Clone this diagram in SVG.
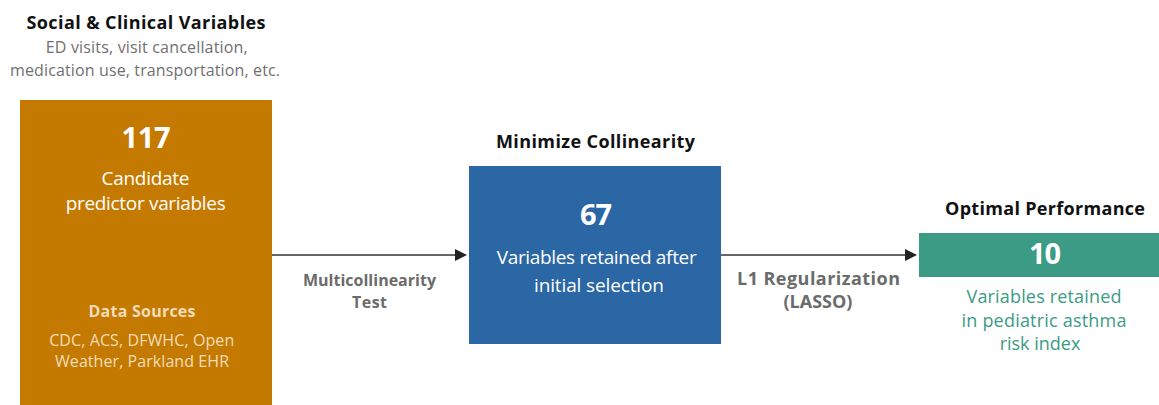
<svg xmlns="http://www.w3.org/2000/svg" width="1159" height="405" viewBox="0 0 1159 405">
<defs>
<style>
text{font-family:"Open Sans","Liberation Sans",sans-serif;text-anchor:middle}
.h{font-weight:bold;font-size:18px;fill:#111}
.sub{font-size:16px;fill:#707070}
.num{font-weight:bold;font-size:29px;fill:#fff}
.w{font-size:19px;fill:#fff}
.lbl{font-weight:bold;font-size:16px;fill:#6b6b6b}
.lbl2{font-weight:bold;font-size:18px;fill:#6b6b6b}
.src{font-size:16px;fill:#f3dcb8}
.srch{font-weight:bold;font-size:16px;fill:#f3dcb8}
.g{font-size:18px;fill:#3b9b85}
.edge{stroke:#333;stroke-width:1.5;fill:none}
.head{fill:#222}
</style>
</defs>
<rect width="1159" height="405" fill="#fff"/>
<g id="connectors">
<line class="edge" x1="272" y1="255" x2="456" y2="255"/>
<path class="head" d="M455,249L467,255L455,261z"/>
<line class="edge" x1="721" y1="255" x2="906" y2="255"/>
<path class="head" d="M905,249L917,255L905,261z"/>
<text class="lbl" x="369.5" y="285.5" textLength="133">Multicollinearity</text>
<text class="lbl" x="369.5" y="307.5" textLength="35">Test</text>
<text class="lbl2" x="818.5" y="285" textLength="163">L1 Regularization</text>
<text class="lbl2" x="818" y="308">(LASSO)</text>
</g>
<g id="node-candidates">
<text class="h" x="146" y="29" textLength="239">Social &amp; Clinical Variables</text>
<text class="sub" x="146.7" y="53" textLength="202">ED visits, visit cancellation,</text>
<text class="sub" x="145" y="76" textLength="270">medication use, transportation, etc.</text>
<rect x="20" y="100" width="252" height="305" fill="#c47a00"/>
<text class="num" x="146" y="148" textLength="49">117</text>
<text class="w" x="145.5" y="185" textLength="88">Candidate</text>
<text class="w" x="145.7" y="209.5" textLength="160">predictor variables</text>
<text class="srch" x="142" y="316.5" textLength="107">Data Sources</text>
<text class="src" x="141.7" y="345.5" textLength="185">CDC, ACS, DFWHC, Open</text>
<text class="src" x="142" y="367" textLength="174">Weather, Parkland EHR</text>
</g>
<g id="node-collinearity">
<text class="h" x="595.5" y="148" textLength="199">Minimize Collinearity</text>
<rect x="469" y="166" width="252" height="178" fill="#2b66a5"/>
<text class="num" x="596" y="225" textLength="32">67</text>
<text class="w" x="596.7" y="264" textLength="200">Variables retained after</text>
<text class="w" x="599" y="291.5" textLength="130">initial selection</text>
</g>
<g id="node-optimal">
<text class="h" x="1045" y="215" textLength="200">Optimal Performance</text>
<rect x="919" y="233" width="240" height="44" fill="#3b9b85"/>
<text class="num" x="1045" y="264" textLength="32">10</text>
<text class="g" x="1044" y="303" textLength="155">Variables retained</text>
<text class="g" x="1044" y="327" textLength="165">in pediatric asthma</text>
<text class="g" x="1040" y="350">risk index</text>
</g>
</svg>
